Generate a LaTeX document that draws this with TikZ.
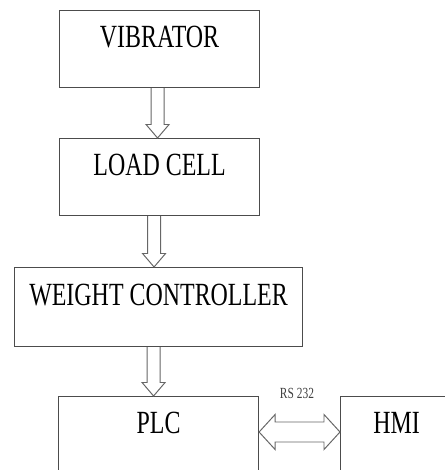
\documentclass[tikz,border=0pt]{standalone}
\usepackage{fontspec}
\setmainfont{Liberation Serif}[FakeStretch=0.74]
\usetikzlibrary{calc}
\newlength\pxu
\setlength\pxu{0.025cm}
\tikzset{
  bloc/.style={draw=black!70, line width=0.75pt, anchor=north west, inner sep=0pt,
    text=black, font=\fontsize{23}{26}\selectfont,
    text height=0.925cm, text depth=1cm},
  blocfleche/.style={draw=black!60, line width=0.7pt, to path={
    let \p1=(\tikztostart), \p2=(\tikztotarget),
        \n1={\x1+#1*\pxu} in
    (\n1-6.5*\pxu,\y1) -- (\n1-6.5*\pxu,\y2+13.5*\pxu) -- (\n1-11.5*\pxu,\y2+13.5*\pxu)
    -- (\n1,\y2) -- (\n1+11.5*\pxu,\y2+13.5*\pxu) -- (\n1+6.5*\pxu,\y2+13.5*\pxu)
    -- (\n1+6.5*\pxu,\y1)}},
  doublefleche/.style={draw=black!60, line width=0.7pt, to path={
    let \p1=(\tikztostart), \p2=(\tikztotarget),
        \n1={\y1-36*\pxu} in
    (\x1,\n1) -- (\x1+16*\pxu,\n1+17.5*\pxu) -- (\x1+16*\pxu,\n1+10*\pxu)
    -- (\x2-16*\pxu,\n1+10*\pxu) -- (\x2-16*\pxu,\n1+17.5*\pxu) -- (\x2,\n1)
    -- (\x2-16*\pxu,\n1-17.5*\pxu) -- (\x2-16*\pxu,\n1-10*\pxu)
    -- (\x1+16*\pxu,\n1-10*\pxu) -- (\x1+16*\pxu,\n1-17.5*\pxu) -- cycle}}
}
\begin{document}
\begin{tikzpicture}[x=0.025cm, y=-0.025cm]
  % Cadre
  \clip (0,0) rectangle (445,470);
  % Blocs
  \node[bloc, minimum width=5cm] (vib) at (59,10) {VIBRATOR};
  \node[bloc, minimum width=5cm] (load) at (59,138) {LOAD CELL};
  \node[bloc, minimum width=7.2cm, text height=0.95cm, text depth=1.025cm] (wc) at (14,267) {WEIGHT CONTROLLER};
  \node[bloc, minimum width=5cm] (plc) at (58,396) {PLC};
  \node[bloc, minimum width=2.8cm] (hmi) at (340,396) {HMI};
  \node[font=\fontsize{11}{13}\selectfont, text=black!75] (rs) at (297,393) {RS 232};
  % Fleches
  \draw[blocfleche=-2] (vib.south) to (load.north);
  \draw[blocfleche=-5.5] (load.south) to (wc.north);
  \draw[blocfleche=-5] (wc.south) to (plc.north);
  \draw[doublefleche] (plc.north east) to (hmi.north west);
\end{tikzpicture}
\end{document}
